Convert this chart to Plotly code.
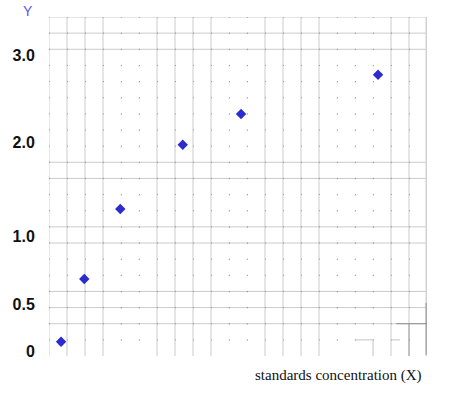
import plotly.graph_objects as go

# ---- data ----
x_conc = [0.67, 1.96, 3.96, 7.43, 10.67, 18.28]
y_resp = [0.094, 0.730, 1.439, 2.091, 2.402, 2.800]
y_tick_vals = [0.0, 0.473, 1.166, 2.110, 3.0]
y_tick_text = ["0", "0.5", "1.0", "2.0", "3.0"]
x_title = "standards concentration (X)"
y_title = "Y"

# ---- layout / style ----
X_RANGE = [0.0, 21.0]
Y_RANGE = [-0.0507, 3.385]
N = 21
solid_cols = [0, 1, 2, 3, 6, 7, 8, 9, 12, 13, 14, 15, 19, 20]
faint_cols = [4, 5, 10, 11, 16, 17, 18]
solid_rows = [2, 3, 4, 7, 8, 11, 12, 19, 20, 21]
faint_rows = [1, 5, 6, 9, 10, 13, 14, 15, 16, 17, 18]

W, H = 452, 394
ML, MR, MT, MB = 49, 25, 17, 38
PW, PH = W - ML - MR, H - MT - MB
col_px = PW / N
row_px = PH / N


def gx(i):
    return X_RANGE[0] + i * (X_RANGE[1] - X_RANGE[0]) / N


def gy(j):
    return Y_RANGE[0] + j * (Y_RANGE[1] - Y_RANGE[0]) / N


def px_x(p):  # pixel -> paper x
    return (p - ML) / PW


def px_y(p):  # pixel -> paper y
    return (MT + PH - p) / PH


shapes = []
GRID = "#cbcbcb"
for i in solid_cols:
    shapes.append(dict(type="line", xref="x", yref="y", x0=gx(i), x1=gx(i),
                       y0=gy(0), y1=gy(N), line=dict(color=GRID, width=1), layer="below"))
for j in solid_rows:
    shapes.append(dict(type="line", xref="x", yref="y", x0=gx(0), x1=gx(N),
                       y0=gy(j), y1=gy(j), line=dict(color=GRID, width=1), layer="below"))
# faint (dotted) lines
for i in faint_cols:
    shapes.append(dict(type="line", xref="x", yref="y", x0=gx(i), x1=gx(i),
                       y0=gy(N), y1=gy(0),
                       line=dict(color="#c4c4c4", width=1,
                                 dash=f"1px,{row_px - 1:.2f}px"), layer="below"))
for j in faint_rows:
    shapes.append(dict(type="line", xref="x", yref="y", x0=gx(0), x1=gx(N),
                       y0=gy(j), y1=gy(j),
                       line=dict(color="#9a9a9a", width=1,
                                 dash=f"1px,{col_px - 1:.2f}px"), layer="below"))
# darker crossing dots on solid rows
for j in solid_rows:
    shapes.append(dict(type="line", xref="x", yref="y", x0=gx(0), x1=gx(N),
                       y0=gy(j), y1=gy(j),
                       line=dict(color="#909090", width=1,
                                 dash=f"1px,{col_px - 1:.2f}px"), layer="below"))
# right border (thick, light)
shapes.append(dict(type="line", xref="x", yref="y", x0=gx(N), x1=gx(N),
                   y0=gy(0), y1=gy(N), line=dict(color="#d2d2d2", width=3), layer="below"))
shapes.append(dict(type="line", xref="x", yref="y", x0=gx(N), x1=gx(N),
                   y0=gy(0.1), y1=gy(3.3), line=dict(color="#a8a8a8", width=3), layer="below"))
# scan artifacts in the lower right
shapes.append(dict(type="line", xref="x", yref="y", x0=gx(19.3), x1=gx(N),
                   y0=gy(2), y1=gy(2), line=dict(color="#8c8c8c", width=1), layer="below"))
shapes.append(dict(type="line", xref="x", yref="y", x0=gx(20), x1=gx(20),
                   y0=gy(0), y1=gy(2), line=dict(color="#a0a0a0", width=1), layer="below"))
shapes.append(dict(type="line", xref="x", yref="y", x0=gx(17), x1=gx(18),
                   y0=gy(1), y1=gy(1), line=dict(color="#c4c4c4", width=1), layer="below"))
shapes.append(dict(type="line", xref="x", yref="y", x0=gx(18), x1=gx(18),
                   y0=gy(0), y1=gy(1), line=dict(color="#c4c4c4", width=1), layer="below"))
shapes.append(dict(type="line", xref="x", yref="y", x0=gx(19), x1=gx(19.5),
                   y0=gy(1), y1=gy(1), line=dict(color="#c4c4c4", width=1), layer="below"))

fig = go.Figure()
fig.add_trace(go.Scatter(
    x=x_conc, y=y_resp, mode="markers",
    marker=dict(symbol="diamond", size=8, color="#2b2bd0", line=dict(width=0)),
    showlegend=False, hoverinfo="skip"))

fig.update_layout(
    width=W, height=H, autosize=False,
    margin=dict(l=ML, r=MR, t=MT, b=MB, pad=0),
    paper_bgcolor="white", plot_bgcolor="white",
    shapes=shapes,
    xaxis=dict(range=X_RANGE, showgrid=False, zeroline=False, showline=False,
               showticklabels=False, ticks="", fixedrange=True),
    yaxis=dict(range=Y_RANGE, showgrid=False, zeroline=False, showline=False,
               tickmode="array", tickvals=y_tick_vals, ticktext=y_tick_text,
               ticks="outside", ticklen=10, tickcolor="rgba(0,0,0,0)",
               tickfont=dict(family="Liberation Sans", size=16, color="#111111",
                             weight="bold"),
               fixedrange=True),
    annotations=[
        dict(text=x_title, xref="paper", yref="paper",
             x=px_x(253), y=px_y(375), xanchor="left", yanchor="middle",
             showarrow=False,
             font=dict(family="Liberation Serif", size=15, color="#111111")),
        dict(text=y_title, xref="paper", yref="paper",
             x=px_x(28), y=px_y(11), xanchor="center", yanchor="middle",
             showarrow=False,
             font=dict(family="Liberation Sans", size=14, color="#5858ec")),
    ],
)

fig.write_html("out.html", config={"displayModeBar": False},
               post_script="document.body.style.margin='0';")
